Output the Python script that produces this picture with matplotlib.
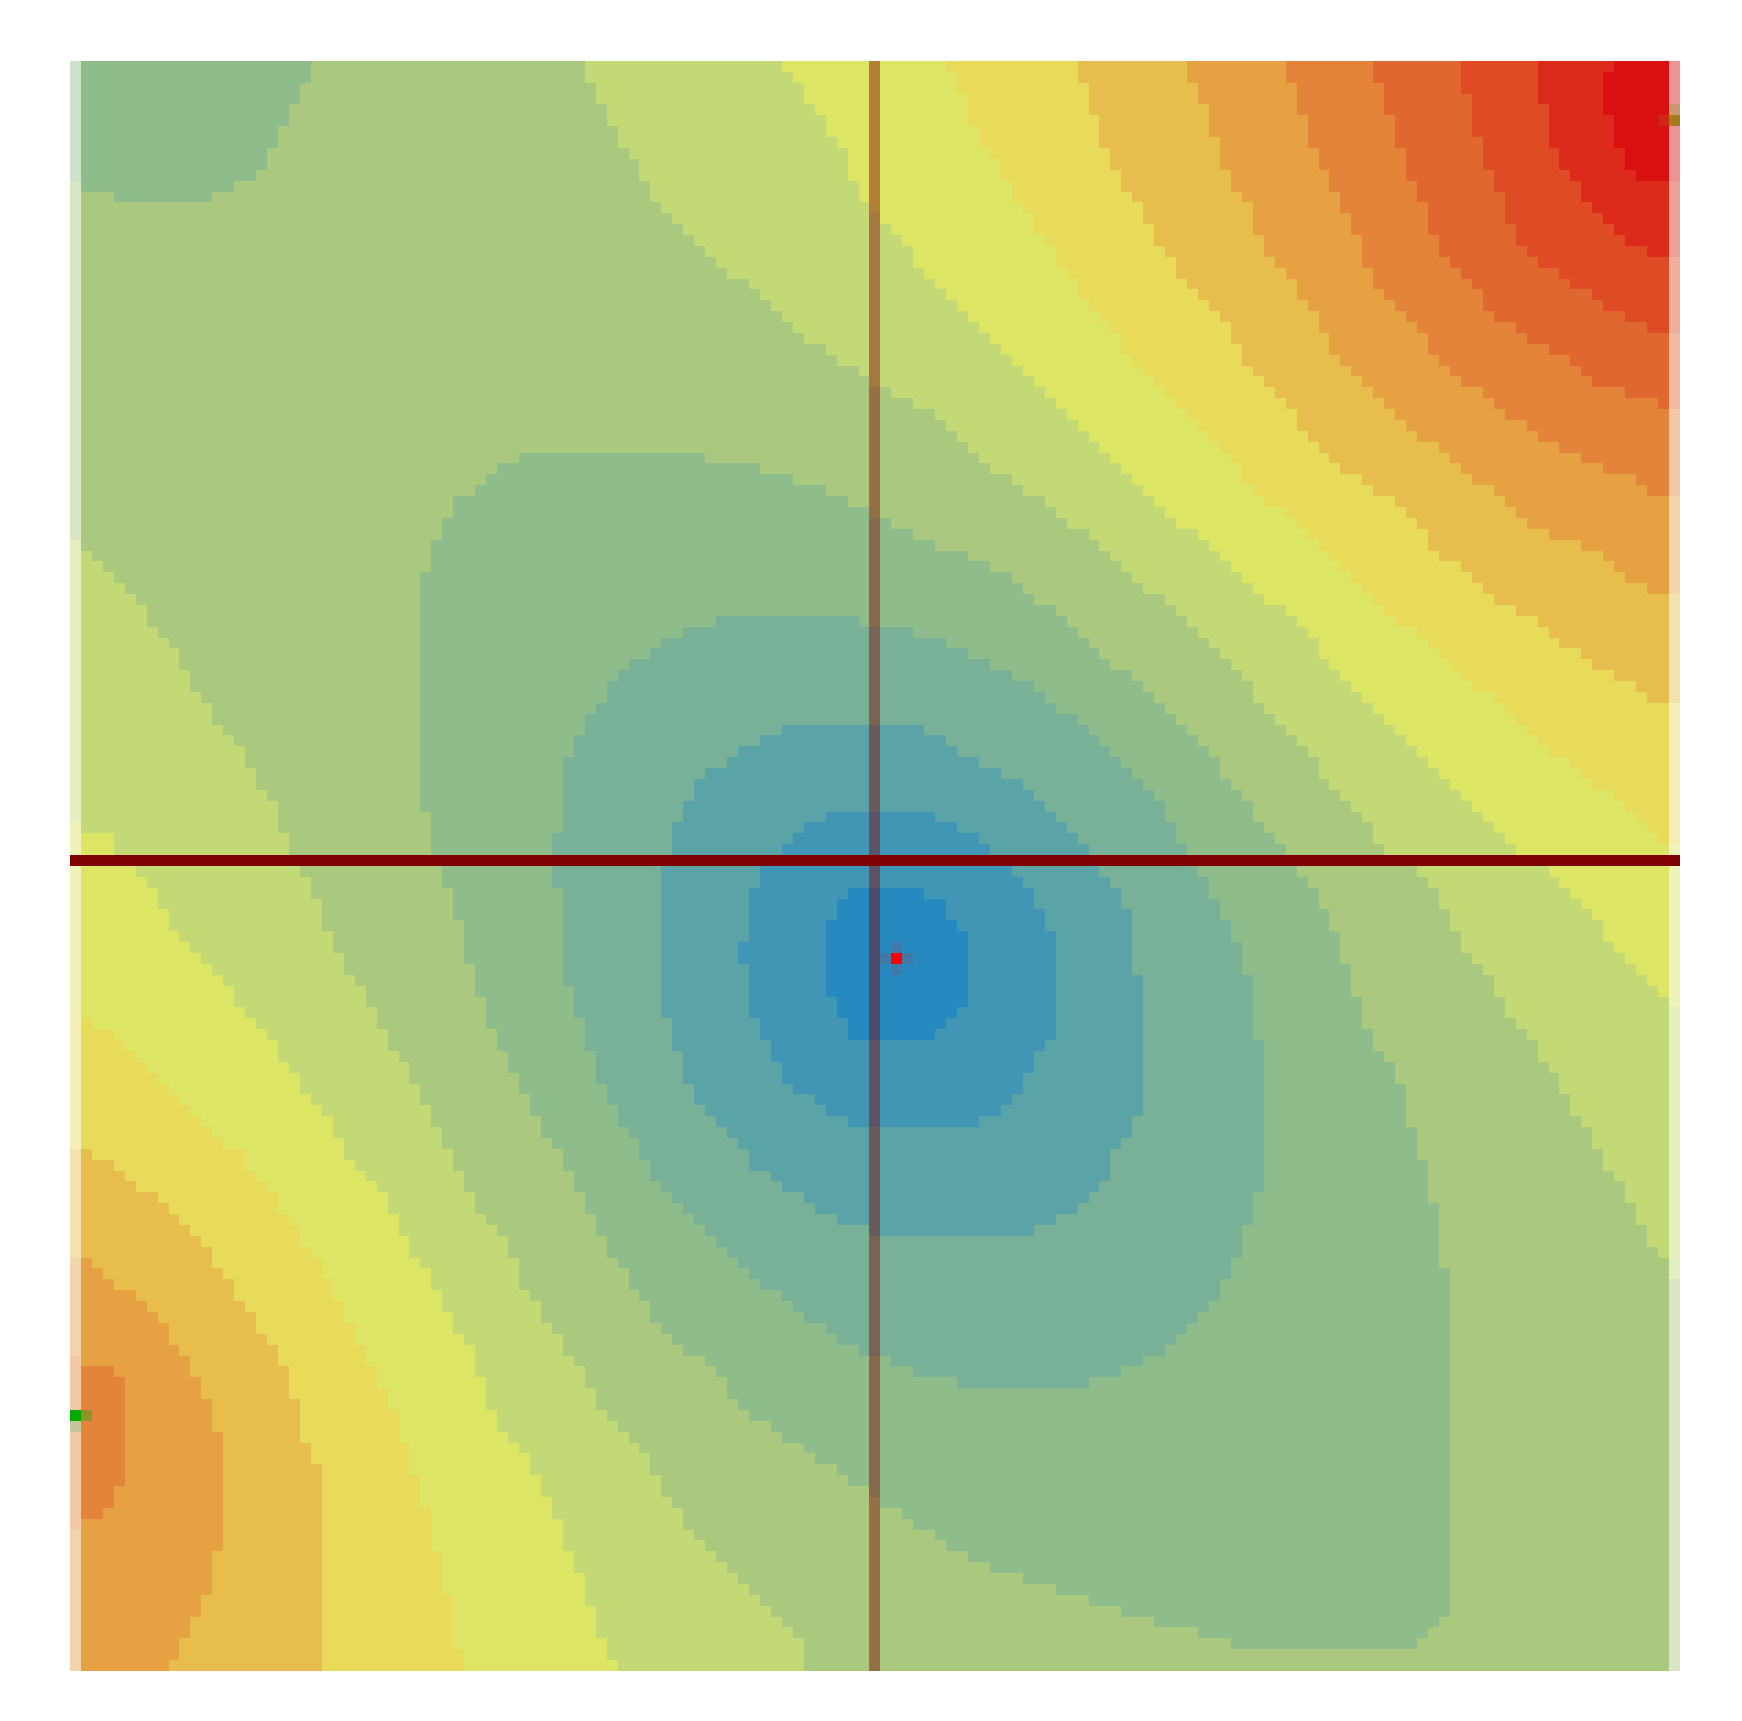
import numpy as np
import matplotlib
matplotlib.use("Agg")
import matplotlib.pyplot as plt
from matplotlib.colors import ListedColormap, BoundaryNorm, to_rgba
from matplotlib.path import Path

N_ROWS = 148
N_COLS = 147
BASE_LEVEL = 5

LEVEL_COLORS = ["#2689BF", "#4296B5", "#5AA3A7", "#78B197", "#8FBC8B", "#AAC97F",
                "#C3D975", "#DDE664", "#E9DB5A", "#E7BE4E", "#E6A143", "#E4843A",
                "#E0672E", "#DF4B25", "#DC2B1A", "#D90F12"]

# Level boundaries, as (column, row) in cell units.
# Upper-right family: everything towards the top-right corner is one level higher.
UPPER_RIGHT = [
    [(47,0),(48,3),(49,5),(50,7.5),(52,10),(53,12),(55,14),(57,16),(59,19),(62,20),(64,22),(66,24),(68,26),(71,28),(73,29),(74,30),(78,32),(81,34),(85,38),(90,41),(92,43),(95,45),(97,48),(101,50),(103,53),(106,55),(108,58),(110,60),(112,62),(114,65),(116,67),(119,71),(121,73),(123,74),(125,77),(127,81),(129,83),(131,87),(133,89),(135,92),(137,95.7),(139,98.8),(140,100.7),(142,103.7),(143,105.8),(144,107.7),(145,108.6),(146,110.5),(147,111.5)],
    [(65,0),(66,1),(67,3),(69,6),(71,9),(72,12),(74,14),(77,18),(79,20),(82,23),(84,25),(87,28),(90,31),(93,34),(96,37),(99,40),(102,43),(105,45),(108,49),(111,50),(114,54),(117,57),(120,60),(123,63),(126,66),(129,69),(131,71),(133,73),(135,74),(138,77),(140,80),(143,83),(145,85),(146,86),(147,87)],
    [(80,0),(81,2),(82,4),(83,7),(85,10),(86,12),(88,15),(90,18),(92,21),(94,23),(96,26),(99,29),(102,32),(105,35),(107,38),(110,41),(113,43),(116,46),(119,49),(122,52),(126,55),(129,58),(133,61),(136,64),(140,67),(144,70),(146,72),(147,72)],
    [(92,0),(93,3),(94,6),(95,9),(96,11),(98,14),(99,16),(101,19),(103,22),(106,24),(107,27),(110,30),(112,33),(115,36),(117,38),(122,41),(124,44),(126,46),(129,48),(131,50),(135,52),(137,54),(140,56),(143,57),(145,59),(147,59)],
    [(102,0),(103,3),(104,5),(105,8),(106,11),(108,14),(109,17),(111,19),(112,21),(114,23),(115,26),(118,29),(120,31),(122,33),(124,35),(127,37),(129,39),(132,41),(134,43),(139,45),(143,48),(145,49),(147,49)],
    [(111,0),(112,3),(113,6),(114,9),(115,11),(116,13),(117,15),(118,17),(119,20),(121,22),(124,26),(126,28),(128,30),(130,31),(132,33),(135,35),(139,37),(142,38),(145,40),(147,40)],
    [(119,0),(120,3),(121,6),(122,10),(123,12),(124,14),(125,17),(127,19),(129,22),(131,24),(134,26),(138,28),(140,30),(144,31),(146,32),(147,32)],
    [(127,0),(128,5),(129,9),(130,11),(131,13),(132,16),(133,17),(135,19),(138,21),(141,23),(143,24),(146,25),(147,25)],
    [(134,0),(135,7),(136,9),(138,12),(140,15),(143,17),(146,18),(147,18)],
    [(141,0),(140,3),(141,7),(142,9),(143,10),(144,11),(147,11)],
]
# Lower-left family: everything towards the bottom-left corner is one level higher.
LOWER_LEFT = [
    [(0,44),(1,45),(3,47),(5,49),(7,51),(8,53),(10,55),(11,57),(13,60),(14,62),(16,64),(17,67),(19,69),(20,73),(21,74),(22,76),(24,81),(25,83),(27,86),(29,89.6),(31,92.7),(33,96.7),(35,100.6),(37,104.6),(40,108.6),(41,111.4),(43,114.5),(45,117.5),(48,122.2),(50,125.3),(53,128.3),(55,132),(58,136),(60,138.2),(63,141.2),(65,143),(67,145),(67.5,148)],
    [(0,70),(1,71),(3,71),(4,72),(5,74),(6,75),(8,77),(9,79),(11,81),(13,83),(15,86),(17,88),(19,91),(22,95),(25,99.5),(27,102.5),(29,104.6),(31,108.6),(33,111.7),(35,115.4),(37,118.5),(38,122.2),(40,126.2),(42,128.3),(44,132.3),(45,135.1),(47,139.1),(48,143.1),(49,145),(50,147),(50,148)],
    [(0,86),(1,87),(2,88),(3,89),(5,90),(7,92),(9,94),(11,96),(13,98),(15,99.7),(17,101.8),(19,104.6),(21,107.5),(23,110.5),(25,114.5),(27,118.5),(29,122.2),(30,125.3),(31,128.3),(33,134),(34,138.2),(35,143.1),(36,147),(36,148)],
    [(0,99),(1,100),(3,100.7),(4,101.6),(7,103.7),(9,105.6),(11,107.6),(13,109.6),(15,112.4),(17,115.4),(19,118.5),(20,121.3),(21,124.3),(22,128.3),(23,128.3),(23,148)],
    [(0,109.6),(1,109.6),(3,111.4),(5,112.5),(7,114.5),(9,116.5),(11,119.4),(12,121.4),(13,124.3),(14,126.4),(14,134.2),(13,138.2),(12,141),(11,143.3),(10,145),(9,147),(9,148)],
]
PEAK_LOWER_LEFT = [(0,119),(1,120),(3,120),(4,121),(5,122),(5,130),(4,132),(3,133),(2,134),(0,135)]
# Closed rings around the minimum, each one level lower than what surrounds it.
RINGS = [
    [(43,36),(55,36),(60,37),(65,38),(67,39),(70,40),(72,41),(74,42),(75,43),(78,44),(80,45),(83,46),(85,47),(87,49),(89,50),(91,52),(93,54),(96,56),(98,57),(99,59),(101,61),(103,63),(105,65),(106,67),(108,69),(109,71),(111,73),(112,74),(114,77),(115,79),(116,82),(117,84),(118,87),(119,90),(121,92),(122,96),(123,99),(124,102),(125,108),(126,114.5),(126,141),(125,143),(124,144),(122,145),(107,145),(101,143),(97,142),(94,141),(91,140),(88,139),(85,138),(81,136),(79,135),(76,133),(73,131),(70,129),(67,127),(64,125),(61,123),(59,120),(57,118.5),(55,116.5),(53,114.5),(51,111.5),(49,108.5),(47,104.5),(45,100.5),(43,98),(41,94),(40,92),(38,87),(37,84),(36,81),(35,77),(34,74),(33,73),(33,69),(32,69),(32,49),(33,45),(34,43),(35,41),(36,40),(38,39),(40,37)],
    [(61,51),(70,51),(73,52),(75,52),(78,53),(81,54),(83,55),(85,56),(87,57),(89,59),(91,60),(93,62),(95,64),(97,66),(98,67),(100,69),(101,71),(102,73),(103,74),(104,76),(105,78),(106,80),(107,82),(108,86),(108,89),(109,91),(109,101.6),(108,104.6),(107,107.7),(106,110.5),(105,112.6),(103,115.4),(101,116.5),(99,118.4),(97,119.4),(95,120.4),(91,121.4),(83,121.4),(79,120.4),(76,119.4),(74,118.5),(73,118.5),(71,117.4),(68,115.4),(66,113.6),(63,111.7),(60,109.6),(58,106.8),(56,104.6),(54,102.6),(53,101.6),(52,99.7),(51,98.5),(50,96.7),(49,95),(48,92),(47,90),(46,86),(45,84),(45,77),(44,75),(44,72),(45,71),(45,66),(46,63),(47,61),(48,60),(49,58),(50,57),(51,56),(52,55),(54,54),(55,53),(57,52)],
    [(66,61),(76,61),(79,62),(80,63),(82,64),(84,65),(86,66),(87,67),(88,68),(90,69),(91,71),(92,72),(93,73),(94,74),(95,76),(96,77),(97,79),(97,81),(98,87),(98,95.7),(97,97.8),(96,98.8),(95,99.7),(95,101.6),(94,102.6),(93,103.7),(92,104.6),(91,105.6),(89,106.5),(86,107.6),(74,107.6),(73,106.5),(71,106.5),(69,105.6),(66,103.7),(64,102.5),(62,100.7),(61,98.8),(59,96.7),(58,95.7),(57,94.8),(56,91.8),(55,90),(54,86),(54,74),(55,73),(55,71),(56,69),(57,67),(58,66),(59,65),(61,64),(62,63),(64,62)],
    [(71,69),(78,69),(80,70),(82,71),(84,73),(86,74),(87,76),(88,77),(89,79),(90,81),(90,89),(89,90),(88,91.7),(87,93.9),(86,95.7),(84,96.7),(82,97.6),(71,97.6),(69,95.7),(67,94.8),(66,93.7),(65,92.7),(64,89.9),(63,88.7),(62,86.8),(62,83),(61,83),(61,81),(62,81),(62,77),(63,75),(64,74),(65,73),(66,72),(67,71),(68,70)],
    [(72,76),(76,76),(79,77),(80,78),(81,79),(82,80),(82,86.8),(81,86.8),(80,87.8),(79,89.7),(71,89.7),(70,86),(69,85),(69,80),(70,78),(71,77)],
]
# Small low blob in the top-left corner.
TOP_LEFT_BLOB = [(-1,-1),(-1,11),(1,11.5),(1,12),(4,12),(4,13),(13,13),(13,12),(15,12),(15,11),(16,11),(18,10),(18,8),(19,7),(20,5),(21,2),(22,2),(22,-1)]

AXIS_ROW = 73
AXIS_COL = 73
AXIS_COLOR = "#7F0000"
AXIS_COL_ALPHA = 0.45
EDGE_ALPHA = 0.45
READ_ROW_ORIGIN = 73.45
READ_ROW_STRETCH = 0.0123

# Marked cells: (row, column, colour)
MARK_CELLS = [(82,75,"#FF0000"), (124,0,"#00AA00"), (5,146,"#A67C1A"),
              (81,75,"#4179A9"), (83,75,"#4179A9"), (82,74,"#4179A9"), (82,76,"#4179A9"),
              (124,1,"#8F9428"), (125,0,"#C4C59A"), (4,146,"#C9986C"), (5,145,"#CF2713")]


def unsquash(points):
    return [(c, r + max(0.0, r - READ_ROW_ORIGIN) * READ_ROW_STRETCH) for c, r in points]


def cells_inside(vertices):
    cols, rows = np.meshgrid(np.arange(N_COLS) + 0.5, np.arange(N_ROWS) + 0.5)
    path = Path(vertices)
    inside = np.zeros((N_ROWS, N_COLS), dtype=bool)
    # A cell whose centre lies on a stair diagonal counts as inside.
    for dx, dy in [(0.03, 0.03), (0.03, -0.03), (-0.03, 0.03), (-0.03, -0.03)]:
        pts = np.column_stack([(cols + dx).ravel(), (rows + dy).ravel()])
        inside |= path.contains_points(pts).reshape(N_ROWS, N_COLS)
    return inside


level = np.full((N_ROWS, N_COLS), BASE_LEVEL)
for line in UPPER_RIGHT:
    line = unsquash(line)
    level += cells_inside(line + [(148, line[-1][1]), (148, -1), (line[0][0], -1)])
for line in LOWER_LEFT:
    line = unsquash(line)
    level += cells_inside(line + [(line[-1][0], 149), (-1, 149), (-1, line[0][1])])
level += cells_inside([(-1, PEAK_LOWER_LEFT[0][1])] + PEAK_LOWER_LEFT + [(-1, PEAK_LOWER_LEFT[-1][1])])
for ring in RINGS:
    level -= cells_inside(unsquash(ring))
level -= cells_inside(TOP_LEFT_BLOB)
level = np.clip(level, 0, len(LEVEL_COLORS) - 1)

alpha = np.ones((N_ROWS, N_COLS))
alpha[:, 0] = EDGE_ALPHA
alpha[:, -1] = EDGE_ALPHA

overlay = np.zeros((N_ROWS, N_COLS, 4))
overlay[:, AXIS_COL] = to_rgba(AXIS_COLOR, AXIS_COL_ALPHA)
overlay[AXIS_ROW, :] = to_rgba(AXIS_COLOR, 1.0)
for r, c, col in MARK_CELLS:
    overlay[r, c] = to_rgba(col)

W, H = 1742, 1721
fig = plt.figure(figsize=(W / 100, H / 100), dpi=100, facecolor="white")
ax = fig.add_axes([69.5 / W, (H - 1670.7) / H, 1609.5 / W, 1609.7 / H])
cmap = ListedColormap(LEVEL_COLORS)
norm = BoundaryNorm(np.arange(len(LEVEL_COLORS) + 1) - 0.5, cmap.N)
extent = (0, N_COLS, N_ROWS, 0)
ax.imshow(level, cmap=cmap, norm=norm, alpha=alpha, aspect="auto",
          interpolation="nearest", extent=extent)
ax.imshow(overlay, aspect="auto", interpolation="nearest", extent=extent)
ax.set_axis_off()
fig.savefig("out.png", dpi=100, facecolor="white")
